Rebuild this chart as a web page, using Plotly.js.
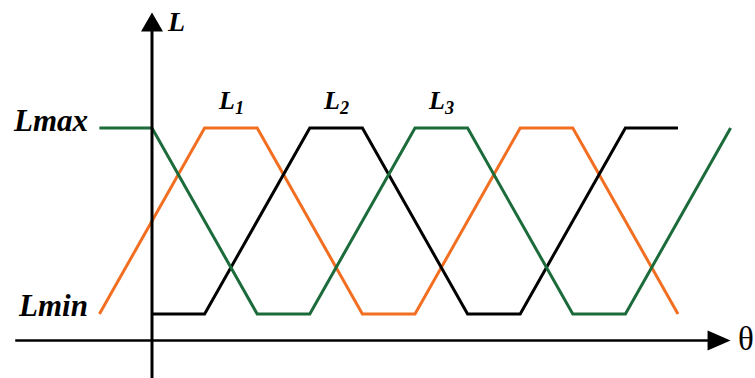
<!DOCTYPE html>
<html>
<head>
<meta charset="utf-8">
<script src="https://cdn.plot.ly/plotly-3.0.1.min.js"></script>
<style>
  html, body { margin: 0; padding: 0; background: #fff; }
  #chart { width: 755px; height: 378px; }
</style>
</head>
<body>
<div id="chart"></div>
<script>
// inductance profiles, theta in degrees, L in arbitrary units (Lmin = 1, Lmax = 8)
var Lmin = 1;
var Lmax = 8;

var theta1 = [-30, 30, 60, 120, 150, 210, 240, 300];
var ind1   = [1, 8, 8, 1, 1, 8, 8, 1];

var theta2 = [0, 30, 90, 120, 180, 210, 270, 300];
var ind2   = [1, 1, 8, 8, 1, 1, 8, 8];

var theta3 = [-30, 0, 60, 90, 150, 180, 240, 270, 330];
var ind3   = [8, 8, 1, 1, 8, 8, 1, 1, 8];

var names  = ['L<sub>1</sub>', 'L<sub>2</sub>', 'L<sub>3</sub>'];
var colors = ['#f26f22', '#000000', '#1c6b3b'];
// where the curve labels sit (centre of first plateau)
var labelX = [45, 105, 165];

var xTip = 330;   // end of theta axis arrow
var yTip = 12.35; // end of L axis arrow

var serif = 'Liberation Serif';

function line(x, y, c) {
	return {type: 'scatter', mode: 'lines', x: x, y: y,
		line: {color: c, width: 3}, hoverinfo: 'skip'};
}

var data = [
	line(theta1, ind1, colors[0]),
	line(theta2, ind2, colors[1]),
	line(theta3, ind3, colors[2])
];

var shapes = [
	// L axis
	{type: 'line', x0: 0, x1: 0, y0: -1.5, y1: yTip - 0.6,
		line: {color: '#000', width: 3}},
	// theta axis
	{type: 'line', x0: -78, x1: xTip - 10, y0: 0, y1: 0,
		line: {color: '#000', width: 2.5}},
	// arrow heads
	{type: 'path', xsizemode: 'pixel', ysizemode: 'pixel', xanchor: 0, yanchor: yTip,
		path: 'M0,0 L-11,-19 L11,-19 Z', fillcolor: '#000', line: {width: 0}},
	{type: 'path', xsizemode: 'pixel', ysizemode: 'pixel', xanchor: xTip, yanchor: 0,
		path: 'M0,0 L-23,10 L-23,-10 Z', fillcolor: '#000', line: {width: 0}}
];

function bi(t) { return '<b><i>' + t + '</i></b>'; }
function font(size) { return {family: serif, color: '#000', size: size}; }

var annotations = [
	{x: 0, y: yTip, xanchor: 'left', yanchor: 'middle', xshift: 13, yshift: -9,
		text: bi('L'), showarrow: false, font: font(28)},
	{x: xTip, y: 0, xanchor: 'left', yanchor: 'middle', xshift: 5, yshift: 2,
		text: '\u03b8', showarrow: false, font: font(33)},
	{x: -30, y: Lmax, xanchor: 'right', yanchor: 'middle', xshift: -9, yshift: 7,
		text: bi('Lmax'), showarrow: false, font: font(31)},
	{x: -30, y: Lmin, xanchor: 'right', yanchor: 'middle', xshift: -9, yshift: 8,
		text: bi('Lmin'), showarrow: false, font: font(31)}
];
for (var i = 0; i < names.length; i++) {
	annotations.push({x: labelX[i], y: Lmax, xanchor: 'center', yanchor: 'bottom',
		yshift: 8, text: bi(names[i]), showarrow: false, font: font(26)});
}

var layout = {
	width: 755, height: 378,
	margin: {l: 0, r: 0, t: 0, b: 0},
	paper_bgcolor: '#fff', plot_bgcolor: '#fff',
	showlegend: false,
	xaxis: {range: [-86.69, 343.92], visible: false, fixedrange: true},
	yaxis: {range: [-1.409, 12.817], visible: false, fixedrange: true},
	shapes: shapes,
	annotations: annotations
};

Plotly.newPlot('chart', data, layout, {displayModeBar: false});
</script>
</body>
</html>
